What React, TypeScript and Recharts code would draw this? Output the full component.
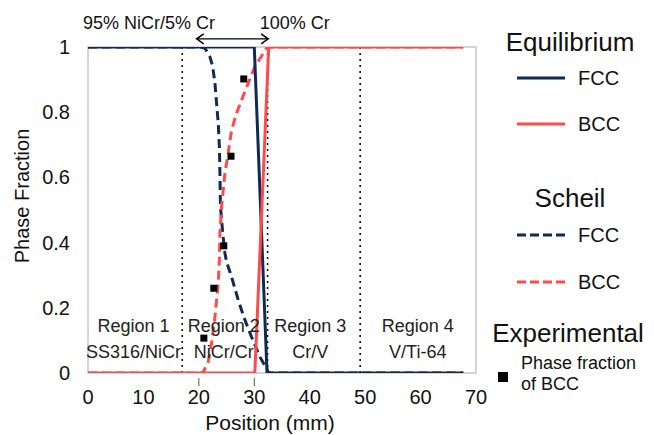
import React from 'react';
import {
  ComposedChart,
  Line,
  Scatter,
  XAxis,
  YAxis,
  ReferenceLine,
  ReferenceArea,
  ReferenceDot,
  Legend,
} from 'recharts';

const NAVY = '#0f2b55';
const RED = '#ff4a4a';
const GREY = '#c6c6c6';
const FONT = '"Liberation Sans", Arial, sans-serif';

const xTicks = [0, 10, 20, 30, 40, 50, 60, 70];
const yTicks = [0, 0.2, 0.4, 0.6, 0.8, 1];
const markedTicks = [20, 30];

const eqFccX = [0, 30.0, 32.3, 67.7];
const eqFccY = [1, 1, 0, 0];
const eqBccX = [0, 30.1, 32.6, 67.7];
const eqBccY = [0, 0, 1, 1];

const scheilFccX = [0, 20.5, 21.1, 22.0, 22.5, 22.9, 23.2, 23.5, 23.7, 23.8, 23.9, 24.3, 24.7, 25.0, 25.9, 27.1, 28.3, 29.5, 31.0, 32.2, 32.6, 67.7];
const scheilFccY = [1, 1, 0.996, 0.97, 0.94, 0.889, 0.827, 0.766, 0.694, 0.613, 0.51, 0.43, 0.368, 0.341, 0.295, 0.224, 0.163, 0.111, 0.05, 0.014, 0, 0];

const scheilBccX = [0, 20.7, 21.7, 22.3, 22.9, 23.5, 23.7, 23.8, 24.1, 24.7, 25.3, 25.9, 26.8, 27.7, 28.9, 30.1, 32.2, 32.5, 67.7];
const scheilBccY = [0, 0, 0.035, 0.092, 0.173, 0.276, 0.347, 0.43, 0.51, 0.613, 0.675, 0.745, 0.797, 0.837, 0.889, 0.94, 0.996, 1, 1];

const expX = [20.9, 22.7, 24.5, 25.8, 28.1];
const expY = [0.107, 0.26, 0.39, 0.665, 0.902];

const boundaryX = [17, 32.4, 49.1];
const regionNames = ['Region 1', 'Region 2', 'Region 3', 'Region 4'];
const regionMaterials = ['SS316/NiCr', 'NiCr/Cr', 'Cr/V', 'V/Ti-64'];
const regionCenters = [8.2, 24.5, 40.1, 59.5];
const regionLabelY = 0.144;

const compositionLabels = ['95% NiCr/5% Cr', '100% Cr'];
const compositionX = [-0.9, 31.0];
const compositionY = 1.074;
const arrowFrom = 19.6;
const arrowTo = 32.5;
const arrowY = 1.025;

const toPoints = (xs: number[], ys: number[]) => xs.map((x, i) => ({ x, y: ys[i] }));

const eqFcc = toPoints(eqFccX, eqFccY);
const eqBcc = toPoints(eqBccX, eqBccY);
const scheilFcc = toPoints(scheilFccX, scheilFccY);
const scheilBcc = toPoints(scheilBccX, scheilBccY);
const experimental = toPoints(expX, expY);

const XTick = (props: any) => {
  const { x, y, payload } = props;
  const marked = markedTicks.includes(payload.value);
  return (
    <g>
      {marked && <line x1={x} x2={x} y1={y + 5} y2={y + 13} stroke="#555" strokeWidth={1} />}
      <text x={x} y={y + 24} textAnchor="middle" dominantBaseline="central" fontSize={20} fontFamily={FONT} fill="#111">
        {payload.value}
      </text>
    </g>
  );
};

const YTick = (props: any) => {
  const { x, y, payload } = props;
  return (
    <text x={x - 18} y={y} textAnchor="end" dominantBaseline="central" fontSize={20} fontFamily={FONT} fill="#111">
      {payload.value}
    </text>
  );
};

const SquareDot = (props: any) => {
  const { cx, cy } = props;
  if (cx == null || cy == null) return null;
  return <rect x={cx - 3.5} y={cy - 3.5} width={7} height={7} fill="#000" />;
};

const ArrowShape = (props: any) => {
  const { x1, y1, x2, y2 } = props;
  const h = 5;
  return (
    <g>
      <line x1={x1} y1={y1} x2={x2} y2={y2} stroke="#000" strokeWidth={1.3} />
      <polyline points={`${x1 + h + 2},${y1 - h} ${x1},${y1} ${x1 + h + 2},${y1 + h}`} fill="none" stroke="#000" strokeWidth={1.5} />
      <polyline points={`${x2 - h - 2},${y2 - h} ${x2},${y2} ${x2 - h - 2},${y2 + h}`} fill="none" stroke="#000" strokeWidth={1.5} />
    </g>
  );
};

const makeRegionShape = (i: number) => (props: any) => {
  const { cx, cy } = props;
  return (
    <text x={cx} y={cy} textAnchor="middle" fontSize={18} fontFamily={FONT} fill="#222">
      <tspan x={cx} dy="0.35em">{regionNames[i]}</tspan>
      <tspan x={cx} dy="26">{regionMaterials[i]}</tspan>
    </text>
  );
};

const makeCompositionShape = (i: number) => (props: any) => {
  const { cx, cy } = props;
  return (
    <text x={cx} y={cy} textAnchor="start" dominantBaseline="central" fontSize={18} fontFamily={FONT} fill="#111">
      {compositionLabels[i]}
    </text>
  );
};

const LegendContent = () => {
  const ox = 480;
  const title = (txt: string, cx: number, cy: number) => (
    <text x={cx - ox} y={cy} textAnchor="middle" dominantBaseline="central" fontSize={26} fontFamily={FONT} fill="#111">
      {txt}
    </text>
  );
  const item = (label: string, color: string, dashed: boolean, cy: number) => (
    <g>
      <line x1={517 - ox} x2={565 - ox} y1={cy} y2={cy} stroke={color} strokeWidth={3} strokeDasharray={dashed ? '9 4' : undefined} />
      <text x={578 - ox} y={cy} dominantBaseline="central" fontSize={20} fontFamily={FONT} fill="#111">
        {label}
      </text>
    </g>
  );
  return (
    <svg width={174} height={435} style={{ display: 'block' }}>
      {title('Equilibrium', 570, 42)}
      {item('FCC', NAVY, false, 78)}
      {item('BCC', RED, false, 124)}
      {title('Scheil', 570, 198)}
      {item('FCC', NAVY, true, 235)}
      {item('BCC', RED, true, 282)}
      {title('Experimental', 568, 333)}
      <rect x={503 - ox - 5} y={377 - 5} width={10} height={10} fill="#000" />
      <text x={521 - ox} y={363} dominantBaseline="central" fontSize={18} fontFamily={FONT} fill="#111">Phase fraction</text>
      <text x={521 - ox} y={384} dominantBaseline="central" fontSize={18} fontFamily={FONT} fill="#111">of BCC</text>
    </svg>
  );
};

const XLabel = (props: any) => {
  const vb = props.viewBox || { x: 88, y: 373, width: 388, height: 62 };
  return (
    <text x={vb.x + vb.width / 2 - 12} y={vb.y + 49} textAnchor="middle" dominantBaseline="central" fontSize={21} fontFamily={FONT} fill="#111">
      Position (mm)
    </text>
  );
};

const YLabel = (props: any) => {
  const vb = props.viewBox || { x: 0, y: 47, width: 88, height: 326 };
  const cx = 22;
  const cy = vb.y + vb.height / 2 - 14;
  return (
    <text x={cx} y={cy} transform={`rotate(-90 ${cx} ${cy})`} textAnchor="middle" dominantBaseline="central" fontSize={20} fontFamily={FONT} fill="#111">
      Phase Fraction
    </text>
  );
};

export default function App() {
  return (
    <div style={{ position: 'absolute', left: 0, top: 0, width: 654, height: 435, background: '#fff' }}>
      <ComposedChart width={654} height={435} margin={{ top: 47, right: 178, bottom: 0, left: 0 }}>
        <XAxis
          type="number"
          dataKey="x"
          domain={[0, 70]}
          ticks={xTicks}
          height={62}
          axisLine={false}
          tickLine={false}
          tickSize={0}
          tickMargin={0}
          tick={<XTick />}
          interval={0}
          allowDataOverflow
          label={{ content: <XLabel /> }}
        />
        <YAxis
          type="number"
          dataKey="y"
          domain={[0, 1]}
          ticks={yTicks}
          width={88}
          axisLine={false}
          tickLine={false}
          tickSize={0}
          tickMargin={0}
          tick={<YTick />}
          interval={0}
          allowDataOverflow
          label={{ content: <YLabel /> }}
        />
        <ReferenceArea x1={0} x2={70} y1={0} y2={1} fill="none" stroke={GREY} strokeWidth={1.5} ifOverflow="visible" />
        {boundaryX.map((bx) => (
          <ReferenceLine key={bx} x={bx} stroke="#000" strokeWidth={1.5} strokeDasharray="2 4" />
        ))}
        {regionCenters.map((rc, i) => (
          <ReferenceDot key={'r' + i} x={rc} y={regionLabelY} r={0} shape={makeRegionShape(i)} ifOverflow="visible" />
        ))}
        {compositionX.map((cx, i) => (
          <ReferenceDot key={'c' + i} x={cx} y={compositionY} r={0} shape={makeCompositionShape(i)} ifOverflow="visible" />
        ))}
        <ReferenceLine
          segment={[{ x: arrowFrom, y: arrowY }, { x: arrowTo, y: arrowY }]}
          ifOverflow="visible"
          shape={<ArrowShape />}
        />
        <Line data={scheilFcc} dataKey="y" type="linear" stroke={NAVY} strokeWidth={3} strokeDasharray="9 5" dot={false} isAnimationActive={false} />
        <Line data={scheilBcc} dataKey="y" type="linear" stroke={RED} strokeWidth={3} strokeDasharray="9 5" dot={false} isAnimationActive={false} />
        <Line data={eqFcc} dataKey="y" type="linear" stroke={NAVY} strokeWidth={3} dot={false} isAnimationActive={false} />
        <Line data={eqBcc} dataKey="y" type="linear" stroke={RED} strokeWidth={3} dot={false} isAnimationActive={false} />
        <Scatter data={experimental} dataKey="y" fill="#000" shape={<SquareDot />} isAnimationActive={false} />
        <Legend
          layout="vertical"
          align="center"
          verticalAlign="middle"
          content={<LegendContent />}
          wrapperStyle={{ position: 'absolute', left: 480, top: 0, width: 174, height: 435 }}
        />
      </ComposedChart>
    </div>
  );
}
